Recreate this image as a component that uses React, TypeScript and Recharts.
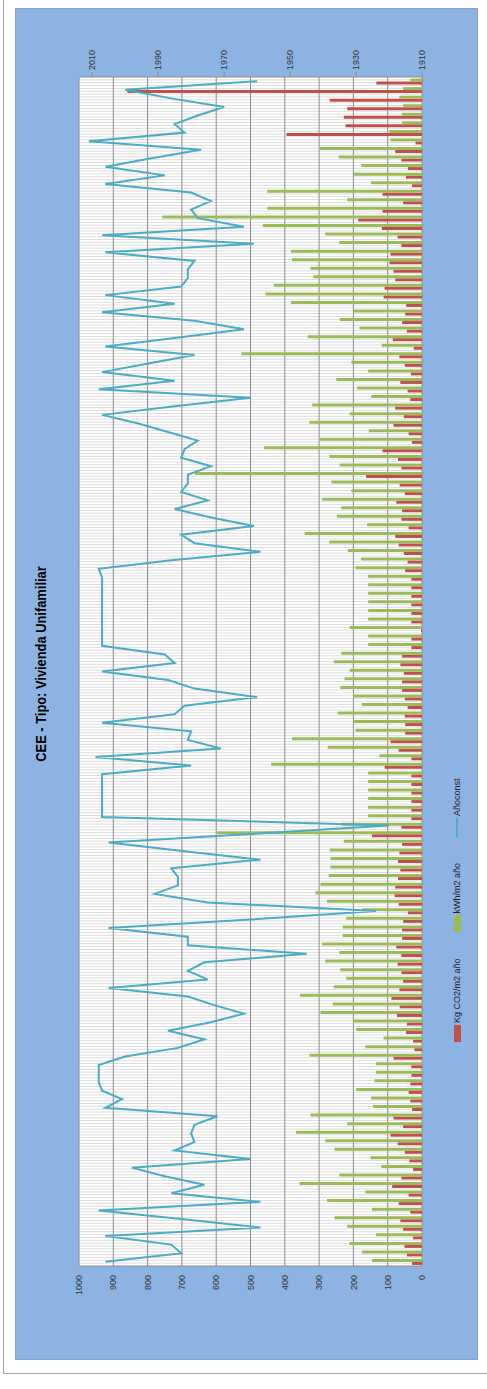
import React from 'react';
import { ComposedChart, Bar, Line, XAxis, YAxis, CartesianGrid } from 'recharts';

// values, listed from the top of the image downwards
// (the chart is drawn unrotated and turned -90deg, the category axis is reversed)
const kwh = [
  34, 55, 66, 55, 58, 58, 95, 92, 298, 243,
  177, 199, 149, 451, 218, 451, 757, 464, 282, 241,
  382, 379, 325, 317, 432, 456, 382, 199, 240, 182,
  333, 117, 526, 206, 157, 250, 189, 148, 320, 211,
  328, 155, 298, 461, 270, 240, 662, 264, 206, 291,
  235, 248, 160, 342, 270, 216, 178, 194, 157, 157,
  157, 157, 157, 157, 211, 157, 157, 235, 257, 211,
  226, 238, 201, 175, 246, 199, 194, 379, 275, 124,
  440, 157, 157, 157, 157, 157, 157, 235, 597, 228,
  269, 267, 267, 272, 296, 311, 277, 175, 221, 231,
  231, 291, 241, 282, 238, 221, 257, 356, 260, 296,
  201, 192, 112, 165, 328, 134, 134, 139, 192, 148,
  143, 325, 218, 367, 282, 255, 150, 118, 241, 357,
  165, 277, 146, 255, 218, 134, 212, 175, 146,
];

const co2 = [
  133, 859, 269, 218, 228, 223, 395, 19, 78, 60,
  41, 47, 29, 115, 55, 115, 186, 117, 71, 60,
  92, 95, 83, 78, 109, 112, 46, 49, 58, 44,
  85, 24, 66, 50, 32, 63, 42, 34, 78, 53,
  83, 39, 29, 115, 70, 60, 163, 65, 50, 75,
  58, 60, 39, 78, 68, 53, 42, 49, 31, 31,
  31, 31, 31, 31, 3, 31, 31, 58, 63, 53,
  58, 58, 50, 42, 50, 49, 49, 92, 68, 31,
  109, 31, 31, 31, 31, 31, 31, 60, 146, 58,
  66, 70, 63, 70, 78, 80, 68, 41, 55, 58,
  58, 75, 60, 71, 60, 55, 66, 89, 65, 73,
  44, 47, 26, 22, 83, 31, 31, 34, 39, 34,
  29, 83, 55, 92, 71, 50, 37, 26, 60, 87,
  39, 68, 34, 63, 55, 26, 51, 44, 29,
];

const anoConst = [
  1960, 2000, 1986, 1970, 1978, 1985, 1982, 2011, 1977, 1992,
  2006, 1988, 2006, 1980, 1974, 1980, 1978, 1964, 2007, 1961,
  2006, 1979, 1981, 1981, 1983, 2006, 1985, 2007, 1979, 1964,
  1985, 2006, 1979, 1993, 2007, 1985, 2008, 1962, 1985, 2007,
  1996, 1987, 1978, 1982, 1983, 1974, 1981, 1981, 1983, 1975,
  1985, 1974, 1961, 1983, 1979, 1959, 1986, 2008, 2007, 2007,
  2007, 2007, 2007, 2007, 2007, 2007, 2007, 1988, 1985, 2007,
  1987, 1979, 1960, 1982, 1985, 2007, 1980, 1981, 1971, 2009,
  1980, 2007, 2007, 2007, 2007, 2007, 2007, 1920, 1962, 2005,
  1982, 1959, 1986, 1984, 1984, 1991, 1975, 1924, 1962, 2005,
  1981, 1981, 1945, 1976, 1981, 1975, 2005, 1981, 1973, 1964,
  1974, 1987, 1976, 1984, 2000, 2008, 2008, 2008, 2007, 2001,
  2006, 1972, 1979, 1980, 1979, 1985, 1962, 1998, 1988, 1976,
  1986, 1959, 2008, 1983, 1959, 2006, 1986, 1983, 2006,
];

const valueTicks = [0, 100, 200, 300, 400, 500, 600, 700, 800, 900, 1000];
const yearTicks = [1910, 1930, 1950, 1970, 1990, 2010];

const series = [
  { key: 'co2', name: 'Kg CO2/m2 año', color: '#C0504D', kind: 'bar' },
  { key: 'kwh', name: 'kWh/m2 año', color: '#9BBB59', kind: 'bar' },
  { key: 'ano', name: 'Añoconst', color: '#4BACC6', kind: 'line' },
];

const data = kwh.map((v, i) => ({ idx: i, kwh: v, co2: co2[i], ano: anoConst[i] }));

const FONT = '"Liberation Sans", Arial, sans-serif';
const W = 1389;
const H = 487;

const stripes = (props: any) => {
  const { offset } = props;
  const n = data.length * 3;
  const pts: number[] = [];
  for (let k = 1; k < n; k++) pts.push(offset.left + (offset.width * k) / n);
  return pts;
};

const edges = (props: any) => {
  const { offset } = props;
  return [offset.left, offset.left + offset.width];
};

const App: React.FC = () => (
  <div style={{ position: 'absolute', left: 0, top: 0, width: H, height: W, overflow: 'hidden', background: '#fff' }}>
    <div
      style={{
        position: 'absolute', left: 0, top: 0, width: W, height: H,
        transformOrigin: '0 0', transform: `translateY(${W}px) rotate(-90deg)`,
      }}
    >
      <div style={{ position: 'absolute', left: 15, top: 3, width: 1400, height: 500, border: '1px solid #a6a6a6', boxSizing: 'border-box' }} />
      <div style={{ position: 'absolute', left: 29, top: 15, width: 1352, height: 463, background: '#8DB3E2', border: '1px solid #8aa2c4', boxSizing: 'border-box' }} />

      <div style={{ position: 'absolute', left: 525, top: 31, width: 400, textAlign: 'center', fontFamily: FONT, fontWeight: 'bold', fontSize: 15.5, lineHeight: '20px', color: '#000', transform: 'scaleX(0.83)' }}>
        CEE - Tipo: Vivienda Unifamiliar
      </div>

      <div style={{ position: 'absolute', left: 347, top: 451, display: 'flex', alignItems: 'center', fontFamily: FONT, fontSize: 9, color: '#222', lineHeight: '12px' }}>
        {series.map((s) => (
          <div key={s.key} style={{ display: 'flex', alignItems: 'center', marginRight: 26 }}>
            {s.kind === 'bar' ? (
              <span style={{ display: 'inline-block', width: 17, height: 7, background: s.color }} />
            ) : (
              <span style={{ display: 'inline-block', width: 19, height: 2, background: s.color }} />
            )}
            <span style={{ marginLeft: 2 }}>{s.name}</span>
          </div>
        ))}
      </div>

      <div style={{ position: 'absolute', left: 0, top: 0 }}>
        <ComposedChart width={W} height={H} data={data} barGap={0} margin={{ top: 79, right: 37, bottom: 65, left: 73 }}>
          <CartesianGrid horizontal={false} stroke="#dcdcdc" fill="#ffffff" verticalCoordinatesGenerator={stripes} />
          <CartesianGrid vertical={false} yAxisId="left" stroke="#8c8c8c" />
          <CartesianGrid horizontal={false} stroke="#8c8c8c" verticalCoordinatesGenerator={edges} />
          <XAxis dataKey="idx" type="category" reversed hide />
          <YAxis
            yAxisId="left" type="number" domain={[0, 1000]} ticks={valueTicks} interval={0} width={50}
            axisLine={false} tickLine={false} tickSize={0} tickMargin={9}
            tick={{ fontSize: 9, fill: '#333', fontFamily: FONT }} allowDataOverflow
          />
          <YAxis
            yAxisId="right" orientation="right" type="number" domain={[1910, 2014]} ticks={yearTicks} interval={0} width={40}
            axisLine={false} tickLine={{ stroke: '#8c8c8c' }} tickSize={5} tickMargin={2}
            tick={{ fontSize: 9, fill: '#333', fontFamily: FONT, textAnchor: 'start' }} allowDataOverflow
          />
          {series.filter((s) => s.kind === 'bar').map((s) => (
            <Bar key={s.key} yAxisId="left" dataKey={s.key} name={s.name} fill={s.color} barSize={3} isAnimationActive={false} />
          ))}
          <Line yAxisId="right" dataKey="ano" name="Añoconst" type="linear" stroke="#4BACC6" strokeWidth={2} dot={false} isAnimationActive={false} />
        </ComposedChart>
      </div>
    </div>
  </div>
);

export default App;
